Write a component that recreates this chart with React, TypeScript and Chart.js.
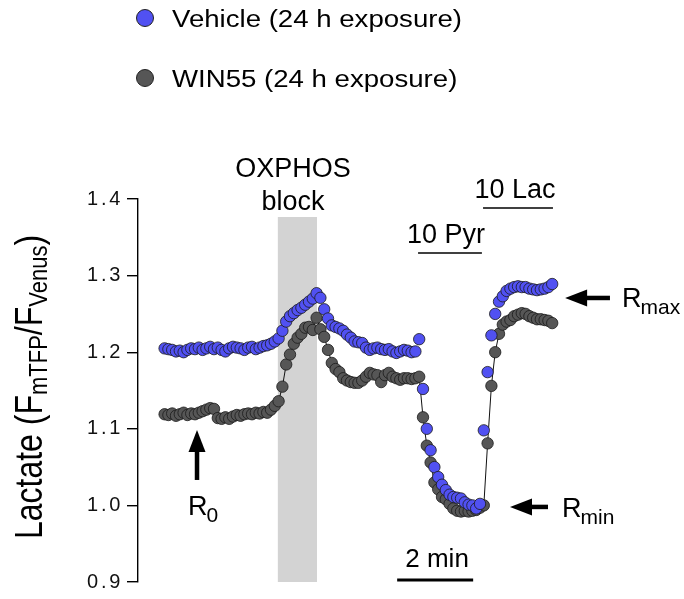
import React, { useEffect, useRef } from "react";
import { Chart, registerables } from "chart.js";

Chart.register(...registerables);

// ---------------- data ----------------
const SERIES_LABELS = ["Vehicle (24 h exposure)", "WIN55 (24 h exposure)"];
// sampling grid (minutes): first sample time and interval
const SAMPLE_START_MIN = 0.7;
const SAMPLE_STEP_MIN = 0.1;

const VEHICLE = [
  1.205, 1.204, 1.203, 1.201, 1.202, 1.200, 1.203, 1.205, 1.204, 1.206,
  1.203, 1.205, 1.207, 1.204, 1.206, 1.203, 1.201, 1.205, 1.207, 1.206,
  1.205, 1.203, 1.206, 1.207, 1.204, 1.206, 1.208, 1.209, 1.211, 1.214,
  1.218, 1.228, 1.240, 1.247, 1.251, 1.255, 1.258, 1.262, 1.266, 1.270,
  1.277, 1.271, 1.256, 1.244, 1.235, 1.233, 1.231, 1.228, 1.223, 1.219,
  1.214, 1.213, 1.212, 1.206, 1.203, 1.205, 1.206, 1.204, 1.203, 1.204,
  1.201, 1.199, 1.201, 1.203, 1.202, 1.200, 1.201, 1.217, 1.152, 1.100,
  1.072, 1.050, 1.037, 1.027, 1.020, 1.014, 1.011, 1.010, 1.009, 1.004,
  1.001, 1.000, 0.996, 1.002, 1.098, 1.174, 1.222, 1.250, 1.266, 1.273,
  1.280, 1.283, 1.285, 1.286, 1.285, 1.285, 1.283, 1.282, 1.281, 1.282,
  1.283, 1.285, 1.289,
];

const WIN55 = [
  1.119, 1.118, 1.120, 1.117, 1.119, 1.121, 1.118, 1.120, 1.119, 1.121,
  1.123, 1.125, 1.127, 1.126, 1.114, 1.113, 1.115, 1.113, 1.116, 1.118,
  1.117, 1.119, 1.120, 1.119, 1.121, 1.120, 1.122, 1.121, 1.125, 1.130,
  1.136, 1.155, 1.184, 1.197, 1.211, 1.219, 1.224, 1.232, 1.233, 1.229,
  1.245, 1.230, 1.220, 1.203, 1.186, 1.178, 1.174, 1.166, 1.163, 1.161,
  1.160, 1.160, 1.163, 1.168, 1.173, 1.171, 1.170, 1.161, 1.170, 1.173,
  1.168, 1.166, 1.164, 1.166, 1.166, 1.165, 1.166, 1.168, 1.115, 1.078,
  1.056, 1.030, 1.021, 1.011, 1.008, 1.002, 0.996, 0.993, 0.992, 0.993,
  0.992, 0.993, 0.994, 0.997, 1.000, 1.081, 1.156, 1.200, 1.224, 1.236,
  1.240, 1.242, 1.247, 1.249, 1.251, 1.250, 1.247, 1.245, 1.243, 1.243,
  1.242, 1.241, 1.238,
];

const Y_TICKS = [0.9, 1.0, 1.1, 1.2, 1.3, 1.4];
const X_RANGE = [0, 12]; // minutes

// annotations, in data units (minutes / ratio)
const OXPHOS_BAND = { x0: 3.68, x1: 4.71, yTop: 1.3765 };
const OXPHOS_TEXT = { x: 4.08, line1: "OXPHOS", y1: 1.4287, line2: "block", y2: 1.3856 };
const PYR_BAR = { x0: 7.37, x1: 9.05, y: 1.3295, label: "10 Pyr", labelX: 8.105, labelY: 1.3426 };
const LAC_BAR = { x0: 9.08, x1: 10.92, y: 1.3882, label: "10 Lac", labelX: 9.92, labelY: 1.4013 };
const SCALE_BAR = { x0: 6.82, x1: 8.82, y: 0.9026, label: "2 min", labelX: 7.87, labelY: 0.9196 };
const R0_MARK = { x: 1.553, tipY: 1.0984, tailY: 1.0332, textX: 1.316, textY: 0.9875, sub: "0" };
const RMIN_MARK = { y: 0.998, tipX: 9.79, tailX: 10.79, textX: 11.16, textY: 0.9849, sub: "min" };
const RMAX_MARK = { y: 1.2708, tipX: 11.24, tailX: 12.42, textX: 12.74, textY: 1.259, sub: "max" };

// ---------------- styles ----------------
const FONT = "Arial, 'Liberation Sans', Helvetica, sans-serif";
const BLUE = "#5151f2";
const GRAY = "#565656";

function drawArrow(ctx: CanvasRenderingContext2D, tx: number, ty: number, hx: number, hy: number) {
  const headLen = 22;
  const headHalf = 8.5;
  const shaft = 4.5;
  const dx = hx - tx;
  const dy = hy - ty;
  const len = Math.hypot(dx, dy);
  const ux = dx / len;
  const uy = dy / len;
  const bx = hx - ux * headLen;
  const by = hy - uy * headLen;
  ctx.save();
  ctx.strokeStyle = "#000";
  ctx.fillStyle = "#000";
  ctx.lineWidth = shaft;
  ctx.lineCap = "butt";
  ctx.beginPath();
  ctx.moveTo(tx, ty);
  ctx.lineTo(bx + ux * 1, by + uy * 1);
  ctx.stroke();
  ctx.beginPath();
  ctx.moveTo(hx, hy);
  ctx.lineTo(bx - uy * headHalf, by + ux * headHalf);
  ctx.lineTo(bx + uy * headHalf, by - ux * headHalf);
  ctx.closePath();
  ctx.fill();
  ctx.restore();
}

function drawSubLabel(ctx: CanvasRenderingContext2D, x: number, y: number, main: string, sub: string) {
  ctx.save();
  ctx.fillStyle = "#000";
  ctx.textAlign = "left";
  ctx.textBaseline = "alphabetic";
  ctx.font = `27px ${FONT}`;
  ctx.fillText(main, x, y);
  const w = ctx.measureText(main).width;
  ctx.font = `21px ${FONT}`;
  ctx.fillText(sub, x + w - 1, y + 7);
  ctx.restore();
}

const figurePlugin = {
  id: "figureDecor",
  beforeDraw(chart: any) {
    // widen the tick labels like the reference
    (chart.ctx as any).letterSpacing = "2.7px";
  },
  beforeDatasetsDraw(chart: any) {
    const { ctx, chartArea, scales } = chart;
    const x = scales.x;
    const y = scales.y;
    ctx.save();
    (ctx as any).letterSpacing = "0px";
    ctx.fillStyle = "#d3d3d3";
    const x0 = x.getPixelForValue(OXPHOS_BAND.x0);
    const x1 = x.getPixelForValue(OXPHOS_BAND.x1);
    const top = y.getPixelForValue(OXPHOS_BAND.yTop);
    ctx.fillRect(x0, top, x1 - x0, chartArea.bottom - top);
    ctx.restore();
  },
  afterDraw(chart: any) {
    const { ctx, scales } = chart;
    const x = scales.x;
    const y = scales.y;
    const px = (v: number) => x.getPixelForValue(v);
    const py = (v: number) => y.getPixelForValue(v);
    ctx.save();
    (ctx as any).letterSpacing = "0px";

    // legend
    chart.data.datasets.forEach((ds: any, i: number) => {
      const cy = 18 + i * 60;
      ctx.beginPath();
      ctx.arc(145, cy, 8.5, 0, Math.PI * 2);
      ctx.fillStyle = ds.backgroundColor;
      ctx.fill();
      ctx.lineWidth = 1;
      ctx.strokeStyle = "#222";
      ctx.stroke();
      ctx.save();
      ctx.translate(172, cy + 8.5);
      ctx.scale(1.2, 1);
      ctx.fillStyle = "#000";
      ctx.font = `23px ${FONT}`;
      ctx.textAlign = "left";
      ctx.textBaseline = "alphabetic";
      ctx.fillText(ds.label, 0, 0);
      ctx.restore();
    });

    // text labels
    ctx.fillStyle = "#000";
    ctx.textAlign = "center";
    ctx.textBaseline = "alphabetic";
    ctx.font = `27px ${FONT}`;
    ctx.fillText(OXPHOS_TEXT.line1, px(OXPHOS_TEXT.x), py(OXPHOS_TEXT.y1));
    ctx.fillText(OXPHOS_TEXT.line2, px(OXPHOS_TEXT.x), py(OXPHOS_TEXT.y2));
    ctx.fillText(PYR_BAR.label, px(PYR_BAR.labelX), py(PYR_BAR.labelY));
    ctx.fillText(LAC_BAR.label, px(LAC_BAR.labelX), py(LAC_BAR.labelY));
    ctx.font = `26px ${FONT}`;
    ctx.fillText(SCALE_BAR.label, px(SCALE_BAR.labelX), py(SCALE_BAR.labelY));

    // bars
    ctx.strokeStyle = "#000";
    ctx.lineCap = "butt";
    ctx.lineWidth = 1.6;
    for (const b of [PYR_BAR, LAC_BAR]) {
      ctx.beginPath();
      ctx.moveTo(px(b.x0), py(b.y));
      ctx.lineTo(px(b.x1), py(b.y));
      ctx.stroke();
    }
    ctx.lineWidth = 3;
    ctx.beginPath();
    ctx.moveTo(px(SCALE_BAR.x0), py(SCALE_BAR.y));
    ctx.lineTo(px(SCALE_BAR.x1), py(SCALE_BAR.y));
    ctx.stroke();

    // arrows + R labels
    drawArrow(ctx, px(R0_MARK.x), py(R0_MARK.tailY), px(R0_MARK.x), py(R0_MARK.tipY));
    drawSubLabel(ctx, px(R0_MARK.textX), py(R0_MARK.textY), "R", R0_MARK.sub);
    drawArrow(ctx, px(RMIN_MARK.tailX), py(RMIN_MARK.y), px(RMIN_MARK.tipX), py(RMIN_MARK.y));
    drawSubLabel(ctx, px(RMIN_MARK.textX), py(RMIN_MARK.textY), "R", RMIN_MARK.sub);
    drawArrow(ctx, px(RMAX_MARK.tailX), py(RMAX_MARK.y), px(RMAX_MARK.tipX), py(RMAX_MARK.y));
    drawSubLabel(ctx, px(RMAX_MARK.textX), py(RMAX_MARK.textY), "R", RMAX_MARK.sub);

    // y-axis title with subscripts
    const segs = [
      { t: "Lactate (F", sub: false },
      { t: "mTFP", sub: true },
      { t: "/F", sub: false },
      { t: "Venus", sub: true },
      { t: ")", sub: false },
    ];
    const mainFont = `32px ${FONT}`;
    const subFont = `22px ${FONT}`;
    let total = 0;
    const widths = segs.map((s) => {
      ctx.font = s.sub ? subFont : mainFont;
      const w = ctx.measureText(s.t).width;
      total += w;
      return w;
    });
    ctx.save();
    ctx.translate(42, 387);
    ctx.rotate(-Math.PI / 2);
    ctx.scale(1, 1.2);
    ctx.textAlign = "left";
    let cx = -total / 2;
    segs.forEach((s, i) => {
      ctx.font = s.sub ? subFont : mainFont;
      ctx.fillText(s.t, cx, s.sub ? 4 : 0);
      cx += widths[i];
    });
    ctx.restore();

    ctx.restore();
  },
};

export default function App() {
  const ref = useRef<HTMLCanvasElement>(null);

  useEffect(() => {
    const times = VEHICLE.map((_, i) => +(SAMPLE_START_MIN + i * SAMPLE_STEP_MIN).toFixed(2));
    const chart = new Chart(ref.current as HTMLCanvasElement, {
      type: "scatter",
      data: {
        datasets: [
          {
            label: SERIES_LABELS[0],
            data: VEHICLE.map((v, i) => ({ x: times[i], y: v })),
            backgroundColor: BLUE,
            borderColor: "#1a1a1a",
            pointRadius: 5.7,
            pointBorderWidth: 0.8,
            showLine: false,
          },
          {
            label: SERIES_LABELS[1],
            data: WIN55.map((v, i) => ({ x: times[i], y: v })),
            backgroundColor: GRAY,
            borderColor: "#111",
            borderWidth: 1,
            pointBorderColor: "#1a1a1a",
            pointRadius: 5.7,
            pointBorderWidth: 0.8,
            showLine: true,
          } as any,
        ],
      },
      options: {
        responsive: false,
        animation: false,
        devicePixelRatio: 1,
        layout: { padding: { top: 199, bottom: 17, left: 0, right: 90 } },
        plugins: { legend: { display: false }, tooltip: { enabled: false } },
        scales: {
          x: { type: "linear", min: X_RANGE[0], max: X_RANGE[1], display: false },
          y: {
            min: Y_TICKS[0],
            max: Y_TICKS[Y_TICKS.length - 1],
            afterBuildTicks: (s: any) => {
              s.ticks = Y_TICKS.map((v) => ({ value: v }));
            },
            afterFit: (s: any) => {
              s.width = 138;
            },
            ticks: {
              callback: (v: any) => Number(v).toFixed(1),
              color: "#111",
              font: { family: FONT, size: 20 },
              padding: 4,
            },
            grid: { drawOnChartArea: false, tickLength: 11, color: "#000", lineWidth: 1.4 },
            border: { color: "#000", width: 1.4 },
          },
        },
      },
      plugins: [figurePlugin as any],
    });
    return () => chart.destroy();
  }, []);

  return (
    <div style={{ position: "absolute", left: 0, top: 0, width: 684, height: 599, background: "#fff" }}>
      <canvas ref={ref} width={684} height={599} style={{ display: "block" }} />
    </div>
  );
}
